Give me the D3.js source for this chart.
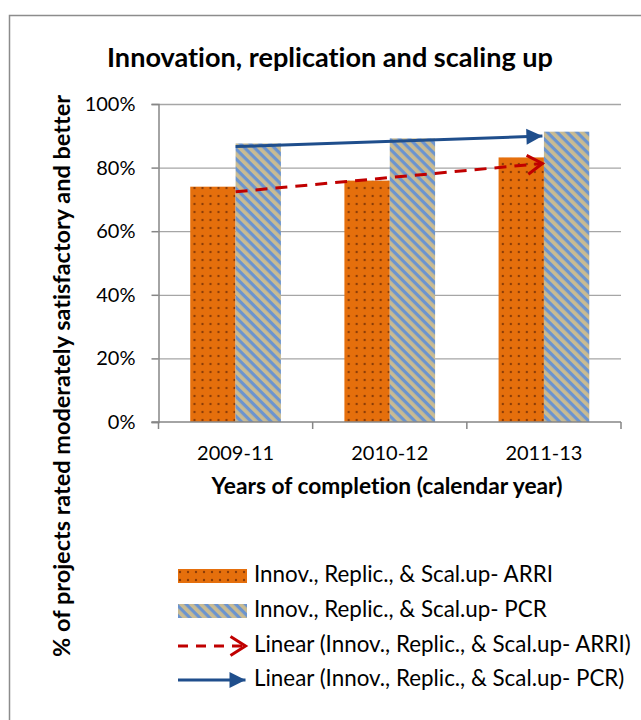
<!DOCTYPE html>
<html><head><meta charset="utf-8">
<script src="https://cdn.jsdelivr.net/npm/d3@7"></script>
<style>body{margin:0;background:#fff} svg{display:block} text{font-family:Lato,"Open Sans",sans-serif;font-variant-ligatures:none;font-feature-settings:"liga" 0,"dlig" 0}</style>
</head><body>
<svg id="c" width="641" height="720"></svg>
<script>
// ---- data ----
const categories = ["2009-11", "2010-12", "2011-13"];
const arriValues = [74.0, 75.9, 83.2];
const pcrValues  = [87.6, 89.2, 91.3];
// linear trend lines as drawn (value at first and last category)
const arriTrend = [72.4, 81.3];
const pcrTrend  = [86.6, 89.9];
const yTicks = [0, 20, 40, 60, 80, 100];
const seriesNames = [
  "Innov., Replic., & Scal.up- ARRI",
  "Innov., Replic., & Scal.up- PCR",
  "Linear (Innov., Replic., & Scal.up- ARRI)",
  "Linear (Innov., Replic., & Scal.up- PCR)"
];
const titleText = "Innovation, replication and scaling up";
const xTitleText = "Years of completion (calendar year)";
const yTitleText = "% of projects rated moderately satisfactory and better";

(function () {
// ---- styling ----
const ORANGE = "#e56f0c", DOT = "#7a3306", STRIPE_BLUE = "#6b94cf", STRIPE_TAN = "#c9bb92";
const RED = "#c00000", BLUE = "#1f4e8c", GRID = "#a6a6a6", AXIS = "#868686";

const svg = d3.select("#c");
const defs = svg.append("defs");

const pd = defs.append("pattern").attr("id", "dots").attr("patternUnits", "userSpaceOnUse")
  .attr("width", 8).attr("height", 8);
pd.append("rect").attr("width", 8).attr("height", 8).attr("fill", ORANGE);
pd.append("circle").attr("cx", 4).attr("cy", 4).attr("r", 1.2).attr("fill", DOT).attr("opacity", 0.85);

const ps = defs.append("pattern").attr("id", "stripes").attr("patternUnits", "userSpaceOnUse")
  .attr("width", 7).attr("height", 7).attr("patternTransform", "rotate(45)");
ps.append("rect").attr("width", 7).attr("height", 7).attr("fill", STRIPE_TAN);
ps.append("rect").attr("width", 7).attr("height", 3.2).attr("fill", STRIPE_BLUE);

const mTri = defs.append("marker").attr("id", "tri").attr("markerUnits", "userSpaceOnUse")
  .attr("viewBox", "-17 -9 18 18").attr("refX", 0).attr("refY", 0)
  .attr("markerWidth", 18).attr("markerHeight", 18).attr("orient", "auto");
mTri.append("path").attr("d", "M-16,-8L0,0L-16,8Z").attr("fill", BLUE);

const mOpen = defs.append("marker").attr("id", "open").attr("markerUnits", "userSpaceOnUse")
  .attr("viewBox", "-20 -13 24 26").attr("refX", 0).attr("refY", 0)
  .attr("markerWidth", 24).attr("markerHeight", 26).attr("orient", "auto");
mOpen.append("path").attr("d", "M-15,-9.5L0,0L-15,9.5").attr("fill", "none")
  .attr("stroke", RED).attr("stroke-width", 3).attr("stroke-linejoin", "miter");

svg.append("rect").attr("x", 9.5).attr("y", 15.5).attr("width", 800).attr("height", 800)
  .attr("fill", "#fff").attr("stroke", "#8c8c8c").attr("stroke-width", 1.5);

function fit(sel, targetW) {
  const node = sel.node();
  const fs = parseFloat(sel.attr("font-size"));
  const w = node.getComputedTextLength();
  if (w > 0) sel.attr("font-size", (fs * targetW / w).toFixed(2));
  return sel;
}

// ---- scales ----
const pLeft = 158.5, pRight = 621, pTop = 104, pBottom = 422;
const x = d3.scaleBand().domain(categories).range([pLeft, pRight]).paddingInner(0).paddingOuter(0);
const xs = d3.scaleBand().domain(["ARRI", "PCR"]).range([0, x.bandwidth()]).paddingInner(0).paddingOuter(0.7);
const y = d3.scaleLinear().domain([0, 100]).range([pBottom, pTop]);

svg.append("g").attr("transform", `translate(${pLeft},0)`)
  .call(d3.axisLeft(y).tickValues(yTicks.filter(d => d > 0)).tickSize(-(pRight - pLeft)).tickFormat(""))
  .call(g => g.select(".domain").remove())
  .call(g => g.selectAll("line").attr("stroke", GRID).attr("stroke-width", 1.3));

const groups = svg.append("g").selectAll("g").data(categories).join("g")
  .attr("transform", d => `translate(${x(d)},0)`);
groups.append("rect").attr("x", xs("ARRI")).attr("width", xs.bandwidth())
  .attr("y", (d, i) => y(arriValues[i])).attr("height", (d, i) => y(0) - y(arriValues[i]))
  .attr("fill", "url(#dots)");
groups.append("rect").attr("x", xs("PCR")).attr("width", xs.bandwidth())
  .attr("y", (d, i) => y(pcrValues[i])).attr("height", (d, i) => y(0) - y(pcrValues[i]))
  .attr("fill", "url(#stripes)");

svg.append("g").attr("transform", `translate(${pLeft},0)`)
  .call(d3.axisLeft(y).tickValues(yTicks).tickFormat(d => d + "%").tickSize(7).tickPadding(16))
  .call(g => g.select(".domain").attr("stroke", AXIS).attr("stroke-width", 1.5))
  .call(g => g.selectAll("line").attr("stroke", AXIS).attr("stroke-width", 1.5))
  .call(g => g.selectAll("text").attr("font-size", 20).attr("fill", "#000")
    .attr("font-family", "Lato, sans-serif"));

const xg = svg.append("g");
xg.append("line").attr("x1", pLeft - 7).attr("x2", pRight).attr("y1", pBottom).attr("y2", pBottom)
  .attr("stroke", AXIS).attr("stroke-width", 1.5);
const bounds = categories.map(c => x(c)).concat([x(categories[categories.length - 1]) + x.bandwidth()]);
xg.selectAll("line.tk").data(bounds).join("line").attr("class", "tk")
  .attr("x1", d => d).attr("x2", d => d).attr("y1", pBottom).attr("y2", pBottom + 7)
  .attr("stroke", AXIS).attr("stroke-width", 1.5);
xg.selectAll("text").data(categories).join("text")
  .attr("x", d => x(d) + x.bandwidth() / 2).attr("y", 460)
  .attr("text-anchor", "middle").attr("font-size", 20).attr("fill", "#000").text(d => d);

const cx = c => x(c) + x.bandwidth() / 2;
const first = categories[0], last = categories[categories.length - 1];
svg.append("line").attr("x1", cx(first)).attr("y1", y(arriTrend[0]))
  .attr("x2", cx(last) - 1.5).attr("y2", y(arriTrend[1]))
  .attr("stroke", RED).attr("stroke-width", 3).attr("stroke-dasharray", "12,8")
  .attr("marker-end", "url(#open)");
svg.append("line").attr("x1", cx(first)).attr("y1", y(pcrTrend[0]))
  .attr("x2", cx(last) - 1.5).attr("y2", y(pcrTrend[1]))
  .attr("stroke", BLUE).attr("stroke-width", 3)
  .attr("marker-end", "url(#tri)");

fit(svg.append("text").attr("x", 330).attr("y", 67).attr("text-anchor", "middle")
  .attr("font-weight", "bold").attr("font-size", 21).attr("fill", "#000").text(titleText), 446);
fit(svg.append("text").attr("x", 387).attr("y", 494).attr("text-anchor", "middle")
  .attr("font-weight", "bold").attr("font-size", 17).attr("fill", "#000").text(xTitleText), 351);
fit(svg.append("text").attr("transform", "translate(70,376) rotate(-90)").attr("text-anchor", "middle")
  .attr("font-weight", "bold").attr("font-size", 17).attr("fill", "#000").text(yTitleText), 562);

const legY = [576, 611, 646, 680];
const lg = svg.append("g");
const sx0 = 178, sx1 = 247;
lg.append("rect").attr("x", sx0).attr("y", legY[0] - 7).attr("width", sx1 - sx0).attr("height", 14).attr("fill", "url(#dots)");
lg.append("rect").attr("x", sx0).attr("y", legY[1] - 7).attr("width", sx1 - sx0).attr("height", 14).attr("fill", "url(#stripes)");
lg.append("line").attr("x1", sx0).attr("x2", sx1 - 1.5).attr("y1", legY[2]).attr("y2", legY[2])
  .attr("stroke", RED).attr("stroke-width", 3).attr("stroke-dasharray", "10,8").attr("marker-end", "url(#open)");
lg.append("line").attr("x1", sx0).attr("x2", sx1 - 1.5).attr("y1", legY[3]).attr("y2", legY[3])
  .attr("stroke", BLUE).attr("stroke-width", 3).attr("marker-end", "url(#tri)");
const lt = lg.selectAll("text").data(seriesNames).join("text")
  .attr("x", 254).attr("y", (d, i) => legY[i] + 6).attr("font-size", 17).attr("fill", "#000").text(d => d);
fit(d3.select(lt.nodes()[0]), 299);
lt.attr("font-size", d3.select(lt.nodes()[0]).attr("font-size"));
})();
</script>
</body></html>
